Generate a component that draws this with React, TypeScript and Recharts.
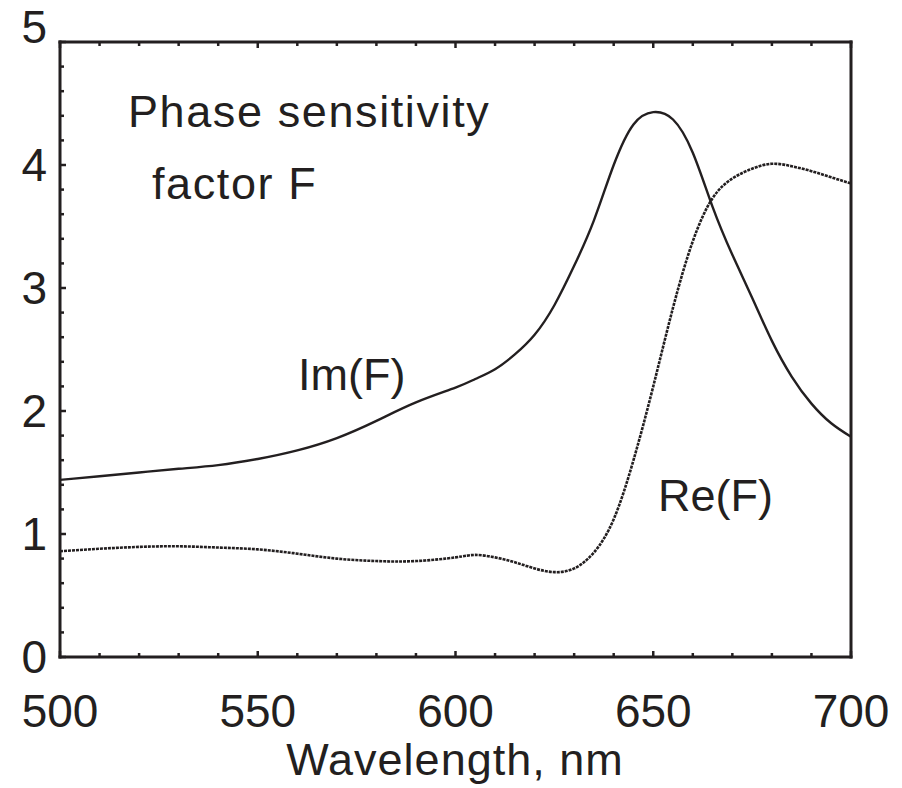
import React from 'react';
import { LineChart, Line, XAxis, YAxis } from 'recharts';

const wavelengths = [
  500, 510, 520, 530, 540, 550, 560, 570, 580, 590, 600, 605, 610, 615, 620, 625,
  630, 635, 640, 645, 650, 655, 660, 665, 670, 675, 680, 685, 690, 695, 700,
];
const imF = [
  1.44, 1.47, 1.5, 1.53, 1.56, 1.61, 1.68, 1.78, 1.92, 2.07, 2.19, 2.26, 2.34, 2.46, 2.62, 2.86,
  3.18, 3.55, 4.0, 4.33, 4.43, 4.37, 4.1, 3.66, 3.27, 2.92, 2.57, 2.28, 2.06, 1.9, 1.79,
];
const reF = [
  0.86, 0.88, 0.895, 0.9, 0.89, 0.875, 0.84, 0.8, 0.78, 0.78, 0.81, 0.83, 0.81, 0.77, 0.72, 0.69,
  0.72, 0.85, 1.12, 1.6, 2.2, 2.84, 3.38, 3.73, 3.89, 3.97, 4.01, 3.99, 3.95, 3.9, 3.85,
];
const xTicks = [500, 510, 520, 530, 540, 550, 560, 570, 580, 590, 600, 610, 620, 630, 640, 650, 660, 670, 680, 690, 700];
const yTicks = [0, 0.2, 0.4, 0.6, 0.8, 1, 1.2, 1.4, 1.6, 1.8, 2, 2.2, 2.4, 2.6, 2.8, 3, 3.2, 3.4, 3.6, 3.8, 4, 4.2, 4.4, 4.6, 4.8, 5];

const data = wavelengths.map((w, i) => ({ w, im: imF[i], re: reF[i] }));

const ink = '#231f20';
const font = '"Liberation Sans", Arial, sans-serif';
const isMajor = (v: number, step: number) => Math.abs(v / step - Math.round(v / step)) < 1e-6;

function XTick(props: any) {
  const { x, y, payload, side } = props;
  const v = payload.value;
  const major = isMajor(v, 50);
  const len = major ? 6 : 4;
  const dir = side === 'bottom' ? -1 : 1;
  return (
    <g>
      <line x1={x} x2={x} y1={y} y2={y + dir * len} stroke={ink} strokeWidth={2.5} />
      {side === 'bottom' && major && (
        <text x={x} y={y + 70} textAnchor="middle" fontSize={46} fontFamily={font} fill={ink}>
          {v}
        </text>
      )}
    </g>
  );
}

function YTick(props: any) {
  const { x, y, payload, side } = props;
  const v = payload.value;
  const major = isMajor(v, 1);
  const len = major ? 6 : 4;
  const dir = side === 'left' ? 1 : -1;
  return (
    <g>
      <line x1={x} x2={x + dir * len} y1={y} y2={y} stroke={ink} strokeWidth={2.5} />
      {side === 'left' && major && (
        <text
          x={x - 13}
          y={y + (v === 5 ? -15 : 0)}
          dy={16}
          textAnchor="end"
          fontSize={46}
          fontFamily={font}
          fill={ink}
        >
          {v}
        </text>
      )}
    </g>
  );
}

const axisLine = { stroke: ink, strokeWidth: 3, strokeLinecap: 'square' as const };

export default function App() {
  return (
    <div style={{ position: 'absolute', left: 0, top: 0, width: 902, height: 788, background: '#fff' }}>
      <LineChart width={902} height={788} data={data} margin={{ top: 0, right: 0, bottom: 0, left: 0 }}>
        <XAxis
          dataKey="w"
          type="number"
          domain={[500, 700]}
          ticks={xTicks}
          interval={0}
          height={131}
          tickSize={0}
          tickMargin={0}
          tickLine={false}
          axisLine={axisLine}
          tick={<XTick side="bottom" />}
        />
        <XAxis
          xAxisId="top"
          orientation="top"
          dataKey="w"
          type="number"
          domain={[500, 700]}
          ticks={xTicks}
          interval={0}
          height={42}
          tickSize={0}
          tickMargin={0}
          tickLine={false}
          axisLine={axisLine}
          tick={<XTick side="top" />}
        />
        <YAxis
          type="number"
          domain={[0, 5]}
          ticks={yTicks}
          interval={0}
          width={60}
          tickSize={0}
          tickMargin={0}
          tickLine={false}
          axisLine={axisLine}
          tick={<YTick side="left" />}
        />
        <YAxis
          yAxisId="right"
          orientation="right"
          type="number"
          domain={[0, 5]}
          ticks={yTicks}
          interval={0}
          width={51}
          tickSize={0}
          tickMargin={0}
          tickLine={false}
          axisLine={axisLine}
          tick={<YTick side="right" />}
        />
        <Line type="natural" dataKey="im" stroke={ink} strokeWidth={2.4} dot={false} isAnimationActive={false} />
        <Line
          type="natural"
          dataKey="re"
          stroke={ink}
          strokeWidth={2.6}
          strokeDasharray="3 1"
          dot={false}
          isAnimationActive={false}
        />
      </LineChart>
      <svg
        width={902}
        height={788}
        style={{ position: 'absolute', left: 0, top: 0, pointerEvents: 'none' }}
        fontFamily={font}
        fill={ink}
        fontSize={45}
      >
        <text x={128} y={127} letterSpacing={1.6}>Phase sensitivity</text>
        <text x={152} y={199} letterSpacing={1.6}>factor F</text>
        <text x={298} y={390}>Im(F)</text>
        <text x={658} y={511}>Re(F)</text>
        <text x={455} y={775} textAnchor="middle" fontSize={45} letterSpacing={1}>Wavelength, nm</text>
      </svg>
    </div>
  );
}
